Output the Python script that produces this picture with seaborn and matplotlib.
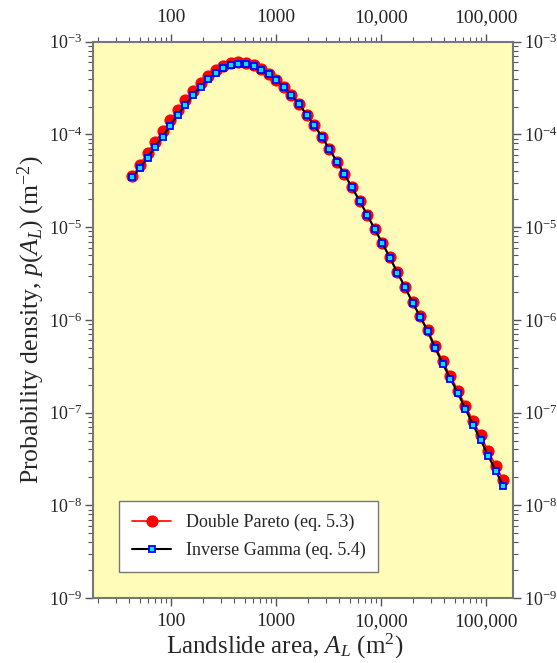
import numpy as np
import matplotlib
matplotlib.use("Agg")
import matplotlib.pyplot as plt
import matplotlib.ticker as mticker
import pandas as pd
import seaborn as sns

# landslide area (m^2), log-spaced points
area = [42.7, 50.4, 59.5, 70.3, 83.0, 97.9, 115.6, 136.5, 161.2, 190.3,
        224.6, 265.2, 313.1, 369.6, 436.4, 515.2, 608.2, 718.1, 847.8, 1001,
        1182, 1395, 1647, 1944, 2295, 2710, 3199, 3777, 4459, 5264,
        6215, 7337, 8662, 10227, 12074, 14254, 16828, 19867, 23455, 27691,
        32692, 38596, 45566, 53795, 63510, 74980, 88521, 104508, 123382, 145665]

# probability density (m^-2)
p_pareto = [3.53e-5, 4.67e-5, 6.37e-5, 8.34e-5, 1.077e-4, 1.429e-4, 1.846e-4, 2.37e-4, 2.97e-4, 3.61e-4,
            4.32e-4, 4.95e-4, 5.48e-4, 5.86e-4, 5.98e-4, 5.89e-4, 5.61e-4, 5.05e-4, 4.46e-4, 3.89e-4,
            3.25e-4, 2.64e-4, 2.14e-4, 1.631e-4, 1.272e-4, 9.51e-5, 7.01e-5, 5.11e-5, 3.74e-5, 2.68e-5,
            1.94e-5, 1.37e-5, 9.6e-6, 6.78e-6, 4.74e-6, 3.27e-6, 2.28e-6, 1.56e-6, 1.10e-6, 7.85e-7,
            5.17e-7, 3.56e-7, 2.48e-7, 1.73e-7, 1.174e-7, 8.15e-8, 5.67e-8, 3.82e-8, 2.67e-8, 1.86e-8]

p_invgamma = [3.44e-5, 4.34e-5, 5.63e-5, 7.37e-5, 9.51e-5, 1.247e-4, 1.631e-4, 2.09e-4, 2.66e-4, 3.27e-4,
              3.96e-4, 4.60e-4, 5.15e-4, 5.58e-4, 5.76e-4, 5.75e-4, 5.47e-4, 4.99e-4, 4.44e-4, 3.89e-4,
              3.25e-4, 2.64e-4, 2.14e-4, 1.631e-4, 1.272e-4, 9.51e-5, 7.01e-5, 5.11e-5, 3.74e-5, 2.68e-5,
              1.93e-5, 1.36e-5, 9.54e-6, 6.74e-6, 4.71e-6, 3.24e-6, 2.26e-6, 1.54e-6, 1.088e-6, 7.53e-7,
              4.96e-7, 3.36e-7, 2.32e-7, 1.62e-7, 1.09e-7, 7.38e-8, 5.09e-8, 3.42e-8, 2.36e-8, 1.60e-8]

x_ticks = [100, 1000, 10000, 100000]
y_ticks = [1e-9, 1e-8, 1e-7, 1e-6, 1e-5, 1e-4, 1e-3]

df = pd.DataFrame({"area": area, "pareto": p_pareto, "invgamma": p_invgamma})

sns.set_theme(style="ticks")
plt.rcParams["font.family"] = ["Liberation Serif", "DejaVu Serif"]
plt.rcParams["mathtext.fontset"] = "custom"
plt.rcParams["mathtext.rm"] = "Liberation Serif"
plt.rcParams["mathtext.it"] = "Liberation Serif:italic"

fig = plt.figure(figsize=(5.57, 6.63), dpi=100)
ax = fig.add_axes([0.167, 0.098, 0.754, 0.839])
ax.set_facecolor("#fffbb8")

sns.lineplot(data=df, x="area", y="pareto", ax=ax, color="red", lw=1.2,
             marker="o", markersize=8, markeredgecolor="red", markerfacecolor="red",
             label="Double Pareto (eq. 5.3)", estimator=None, zorder=2)
sns.lineplot(data=df, x="area", y="invgamma", ax=ax, color="black", lw=1.5,
             marker="s", markersize=4.5, markeredgecolor="#0000ff", markerfacecolor="#00e5ff",
             markeredgewidth=1.3, label="Inverse Gamma (eq. 5.4)", estimator=None, zorder=3)

ax.set(xscale="log", yscale="log")
ax.set_xlim(18, 1.8e5)
ax.set_ylim(1e-9, 1e-3)

ax.xaxis.set_major_locator(mticker.FixedLocator(x_ticks))
ax.xaxis.set_major_formatter(mticker.FuncFormatter(
    lambda v, _: f"{v:,.0f}" if v >= 10000 else f"{v:.0f}"))
ax.xaxis.set_minor_formatter(mticker.NullFormatter())
ax.yaxis.set_major_locator(mticker.FixedLocator(y_ticks))
ax.yaxis.set_major_formatter(mticker.LogFormatterMathtext())
ax.yaxis.set_minor_formatter(mticker.NullFormatter())
ax.yaxis.set_minor_locator(mticker.LogLocator(base=10, subs=np.arange(2, 10), numticks=10))

ax.tick_params(which="both", direction="out", top=True, right=True,
               labeltop=True, labelright=True, color="#555555")
ax.tick_params(axis="x", which="major", pad=5, labelsize=14)
ax.tick_params(axis="y", which="major", pad=2, labelsize=13)
ax.tick_params(which="major", length=6, width=1)
ax.tick_params(which="minor", length=3.5, width=0.8)
for s in ax.spines.values():
    s.set_color("#777777")
    s.set_linewidth(1.5)

ax.set_xlabel(r"Landslide area, $A_L$ (m$^2$)", fontsize=18)
ax.xaxis.set_label_coords(0.457, -0.061)
ax.set_ylabel(r"Probability density, $p(A_L)$ (m$^{-2}$)", fontsize=18.5, labelpad=1)

leg = ax.legend(loc="lower left", bbox_to_anchor=(0.062, 0.047), borderaxespad=0,
                fontsize=13, frameon=True, fancybox=False, framealpha=1,
                edgecolor="#777777", handlelength=2.2, borderpad=0.7, labelspacing=0.6)
leg.get_frame().set_linewidth(1.0)

fig.savefig("out.png", dpi=100)
